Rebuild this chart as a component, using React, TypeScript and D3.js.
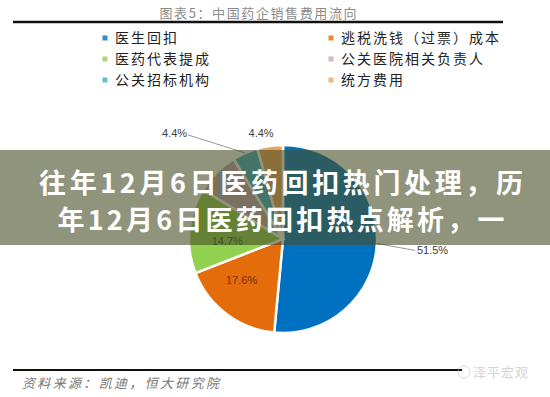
import { useEffect } from "react";
import * as d3 from "d3";

const chartTitle = "图表5：中国药企销售费用流向";
const categories = [
  "医生回扣",
  "逃税洗钱（过票）成本",
  "医药代表提成",
  "公关医院相关负责人",
  "公关招标机构",
  "统方费用",
];
const values = [51.5, 17.6, 14.7, 7.4, 4.4, 4.4];
const valueLabels = ["51.5%", "17.6%", "14.7%", "", "4.4%", "4.4%"];
const sourceText = "资料来源：凯迪，恒大研究院";
const bannerLines = [
  "往年12月6日医药回扣热门处理，历",
  "年12月6日医药回扣热点解析，一",
];
const watermark = "泽平宏观";

const colors = ["#0070C0", "#E46C0A", "#92D050", "#C4A6B8", "#3FB0CC", "#EDA45A"];
const labelColors = ["#404040", "#7a2a0a", "#3b5a1e", "#404040", "#404040", "#404040"];

const W = 550;
const H = 397;
const cx = 283;
const cy = 239;
const R = 94;

type Place = { mode: "in" | "out" | "line"; dx: number; dy: number; anchor: string };
// placement of each percentage label relative to its slice
const places: Place[] = [
  { mode: "line", dx: 38, dy: 7, anchor: "start" },
  { mode: "in", dx: -4, dy: -8, anchor: "middle" },
  { mode: "in", dx: 6, dy: 8, anchor: "middle" },
  { mode: "in", dx: 0, dy: 0, anchor: "middle" },
  { mode: "line", dx: -57, dy: -18, anchor: "end" },
  { mode: "out", dx: -9, dy: -13, anchor: "middle" },
];

export default function App() {
  useEffect(() => {
    document.body.style.margin = "0";
  }, []);

  const pie = d3
    .pie<number>()
    .sort(null)
    .value((d) => d);
  const arcs = pie(values);
  const arc = d3.arc<d3.PieArcDatum<number>>().innerRadius(0).outerRadius(R);
  const inner = d3
    .arc<d3.PieArcDatum<number>>()
    .innerRadius(R * 0.66)
    .outerRadius(R * 0.66);
  const outer = d3.arc<d3.PieArcDatum<number>>().innerRadius(R).outerRadius(R);

  const legendX = d3.scalePoint<number>().domain([0, 1]).range([105, 331]);
  const legendY = d3.scalePoint<number>().domain([0, 1, 2]).range([38, 80]);

  const font = "'Noto Sans CJK SC', sans-serif";
  const numFont = "'Liberation Sans', Arial, sans-serif";

  return (
    <div style={{ position: "absolute", left: 0, top: 0 }}>
      <svg width={W} height={H} style={{ display: "block", background: "#fff" }}>
        {/* title */}
        <text
          x={258}
          y={18}
          textAnchor="middle"
          fontFamily={font}
          fontSize={13}
          fill="#8a8a8a"
          textLength={197}
          lengthAdjust="spacing"
        >
          {chartTitle}
        </text>
        <line x1={13} x2={503} y1={22} y2={22} stroke="#111" strokeWidth={2.5} />

        {/* legend */}
        {categories.map((c, i) => {
          const col = i % 2;
          const row = Math.floor(i / 2);
          const x = legendX(col)!;
          const y = legendY(row)!;
          return (
            <g key={c}>
              <rect x={x - 2.5} y={y - 2.5} width={5} height={5} fill={colors[i]} opacity={0.8} />
              <text
                x={x + 10}
                y={y + 5}
                fontFamily={font}
                fontSize={14}
                fill="#222"
                letterSpacing={2}
              >
                {c}
              </text>
            </g>
          );
        })}

        {/* pie */}
        <g transform={`translate(${cx},${cy})`}>
          {arcs.map((a, i) => (
            <path key={i} d={arc(a) || ""} fill={colors[i]} stroke="#fff" strokeWidth={2.5} />
          ))}
          {arcs.map((a, i) => {
            const p = places[i];
            if (!valueLabels[i]) return null;
            if (p.mode === "in") {
              const [x, y] = inner.centroid(a);
              return (
                <text
                  key={"l" + i}
                  x={x + p.dx}
                  y={y + p.dy}
                  dy="0.35em"
                  textAnchor="middle"
                  fontFamily={numFont}
                  fontSize={11}
                  fill={labelColors[i]}
                >
                  {valueLabels[i]}
                </text>
              );
            }
            const [ox, oy] = outer.centroid(a);
            const tx = ox + p.dx;
            const ty = oy + p.dy;
            return (
              <g key={"l" + i}>
                {p.mode === "line" && (
                  <path
                    d={d3.line()([
                      [ox, oy],
                      [tx, ty],
                    ])!}
                    stroke="#8a8a8a"
                    strokeWidth={0.9}
                    fill="none"
                  />
                )}
                <text
                  x={p.anchor === "start" ? tx + 2 : p.anchor === "end" ? tx - 1 : tx}
                  y={p.mode === "line" && p.anchor === "end" ? ty - 2 : ty}
                  dy="0.35em"
                  textAnchor={p.anchor}
                  fontFamily={numFont}
                  fontSize={11}
                  fill={labelColors[i]}
                >
                  {valueLabels[i]}
                </text>
              </g>
            );
          })}
        </g>

        {/* overlay banner */}
        <rect x={0} y={150} width={W} height={95} fill="rgba(72,76,36,0.6)" />
        <text
          x={281}
          y={183}
          dy="0.36em"
          textAnchor="middle"
          fontFamily={font}
          fontWeight={700}
          fontSize={27}
          fill="#fff"
          textLength={484}
          lengthAdjust="spacing"
        >
          {bannerLines[0]}
        </text>
        <text
          x={281}
          y={220}
          dy="0.36em"
          textAnchor="middle"
          fontFamily={font}
          fontWeight={700}
          fontSize={27}
          fill="#fff"
          textLength={447}
          lengthAdjust="spacing"
        >
          {bannerLines[1]}
        </text>

        {/* footer */}
        <line x1={13} x2={462} y1={370} y2={370} stroke="#111" strokeWidth={2} />
        <text
          x={22}
          y={388}
          fontFamily={font}
          fontSize={13}
          fontStyle="italic"
          fill="#777"
          textLength={197}
          lengthAdjust="spacing"
        >
          {sourceText}
        </text>
        <g opacity={0.5}>
          <circle cx={464} cy={372} r={6} fill="none" stroke="#bbb" strokeWidth={1} />
          <text x={473} y={377} fontFamily={font} fontSize={13} fill="#aaa" letterSpacing={1}>
            {watermark}
          </text>
        </g>
      </svg>
    </div>
  );
}
